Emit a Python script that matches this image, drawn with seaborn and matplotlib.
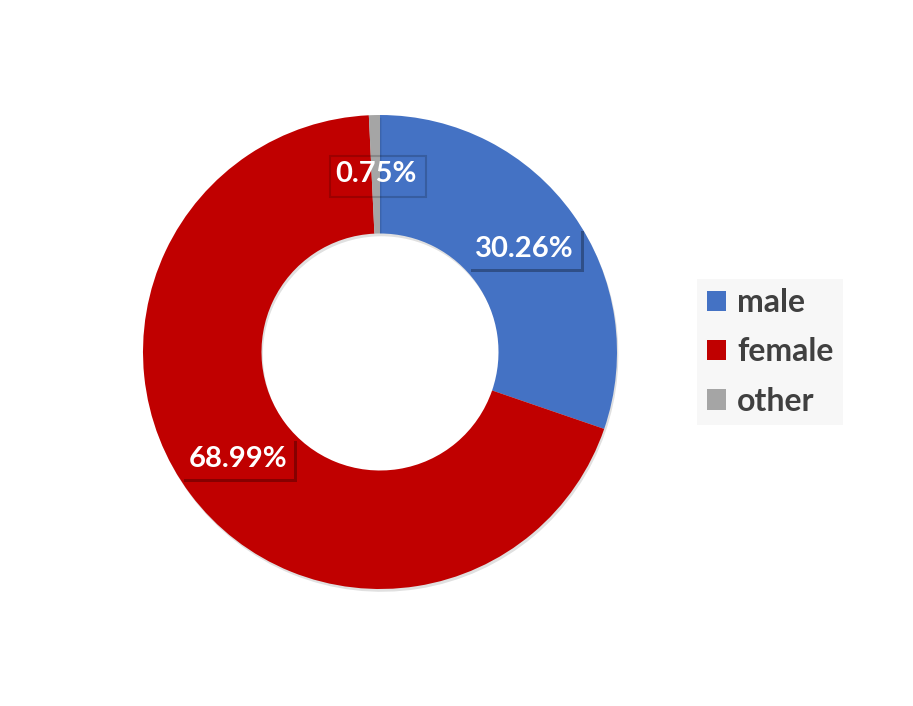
import matplotlib
matplotlib.use('Agg')
import matplotlib.pyplot as plt
import matplotlib.patheffects as pe
from matplotlib.patches import Patch
import seaborn as sns

# valeurs
categories = ['male', 'female', 'other']
shares = [30.26, 68.99, 0.75]
colors = ['#4472C4', '#C00000', '#A5A5A5']

sns.set_style('white')
plt.rcParams['font.family'] = ['Lato', 'DejaVu Sans']

fig = plt.figure(figsize=(9.13, 7.06), dpi=100)
ax = fig.add_axes([(380 - 237) / 913, (706 - 352 - 237) / 706, 474 / 913, 474 / 706])

wedges, texts, autotexts = ax.pie(
    shares, colors=colors, startangle=90, counterclock=False, radius=1,
    wedgeprops=dict(width=0.5, edgecolor='none'),
    autopct='%.2f%%', pctdistance=0.75,
    textprops=dict(color='white', fontsize=21, fontweight='bold'))

for w in wedges:
    w.set_path_effects([pe.SimplePatchShadow(offset=(1, -2), alpha=0.12, shadow_rgbFace='k'), pe.Normal()])

# étiquettes dans un cadre avec ombre portée
for t, c in zip(autotexts[:2], colors[:2]):
    t.set_bbox(dict(boxstyle='square,pad=0.25', facecolor=c, edgecolor='none'))
    t.get_bbox_patch().set_path_effects(
        [pe.SimplePatchShadow(offset=(2, -2), alpha=0.3, shadow_rgbFace='k'), pe.Normal()])

# la petite part : cadre transparent (on voit les parts dessous)
t = autotexts[2]
t.set_bbox(dict(boxstyle='square,pad=0.25', facecolor='none', edgecolor='none'))
t.get_bbox_patch().set_path_effects(
    [pe.Stroke(offset=(1.5, -1.5), linewidth=1.5, foreground='k', alpha=0.18)])

ax.set_xlim(-1, 1)
ax.set_ylim(-1, 1)
ax.set_aspect('equal')
ax.axis('off')

handles = [Patch(facecolor=c, edgecolor='none') for c in colors]
leg = fig.legend(handles, categories, loc='center left', bbox_to_anchor=(697 / 913, 1 - 352 / 706),
                 frameon=True, fancybox=False, borderaxespad=0,
                 handlelength=0.6, handleheight=0.6, handletextpad=0.35,
                 labelspacing=0.63, borderpad=0.3,
                 prop=dict(family='Lato', weight='bold', size=23), labelcolor='#404040')
leg.get_frame().set_facecolor('#f6f6f6')
leg.get_frame().set_edgecolor('none')

fig.savefig('out.png', dpi=100)
